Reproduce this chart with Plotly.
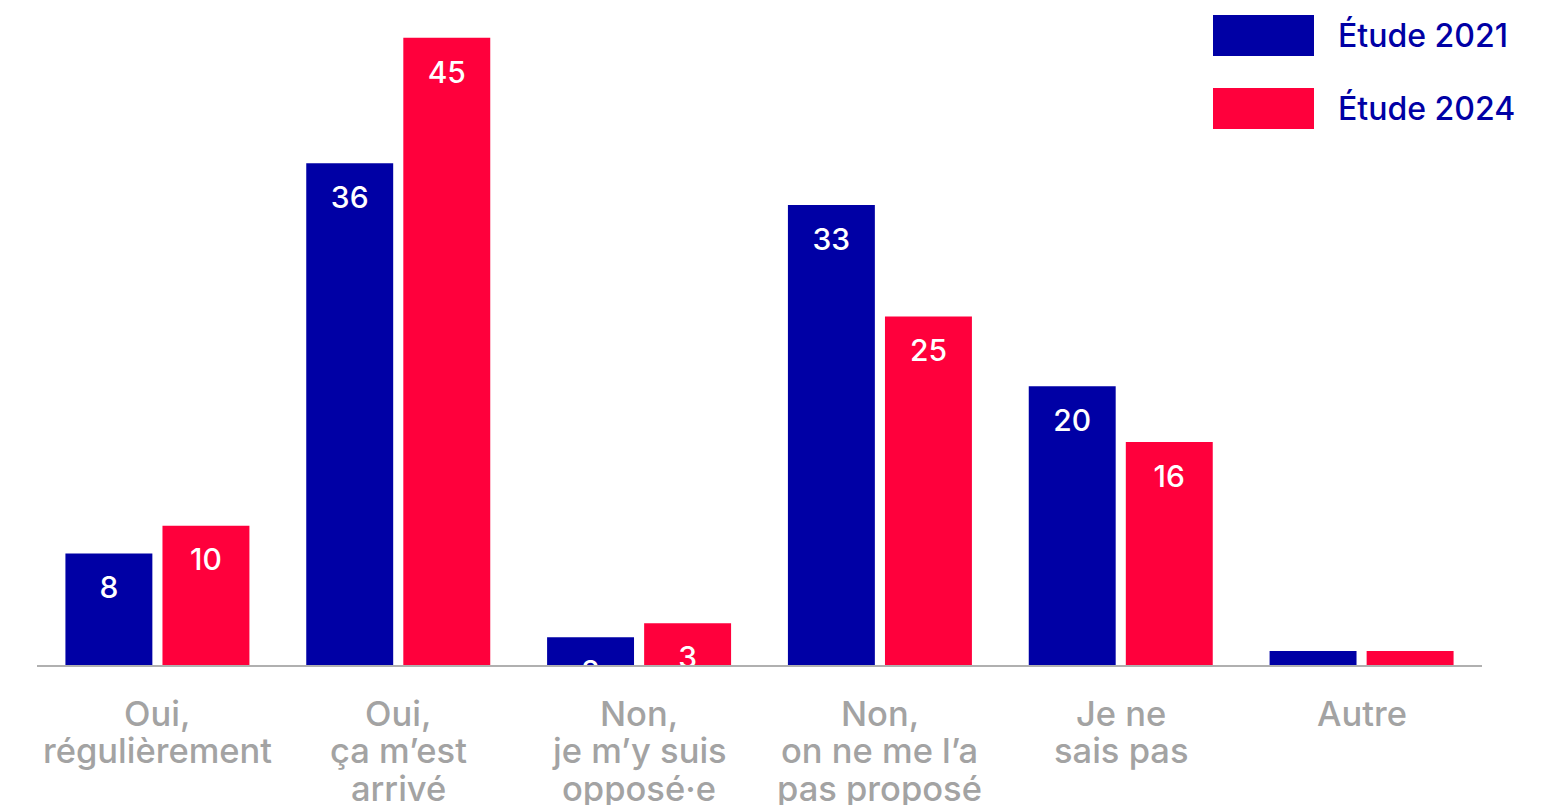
import plotly.graph_objects as go

categories = ["Oui,<br>régulièrement", "Oui,<br>ça m’est<br>arrivé", "Non,<br>je m’y suis<br>opposé·e",
              "Non,<br>on ne me l’a<br>pas proposé", "Je ne<br>sais pas", "Autre"]
series_names = ["Étude 2021", "Étude 2024"]
values_2021 = [8, 36, 2, 33, 20, 1]
values_2024 = [10, 45, 3, 25, 16, 1]
colors = ["#0000A5", "#FF003C"]

FONT = "Inter"
idx = list(range(len(categories)))
bar_w = 0.361
offsets = [-0.382, 0.021]

# page offset compensation (body margin ~8px)
PAD = 8
L, R, T, B = 37 - PAD, 64 + PAD, 10 - PAD, 140 + PAD
W, H = 1546, 805
plot_w = W - L - R
plot_h = H - T - B

fig = go.Figure()
for name, vals, col, off in zip(series_names, [values_2021, values_2024], colors, offsets):
    fig.add_trace(go.Bar(
        x=idx, y=vals, name=name, marker=dict(color=col, line=dict(width=0)),
        width=bar_w, offset=off, showlegend=False, hoverinfo="y+name",
    ))
    fig.add_trace(go.Scatter(
        x=[i + off + bar_w / 2 for i in idx], y=vals, mode="markers+text",
        text=[str(v) for v in vals], textposition="bottom center",
        textfont=dict(family=FONT, size=30, color="white", weight=500),
        marker=dict(size=34, color="rgba(0,0,0,0)"),
        cliponaxis=True, showlegend=False, hoverinfo="skip",
    ))

# category labels (multi-line, tight line spacing)
for i, lab in zip(idx, categories):
    for j, line in enumerate(lab.split("<br>")):
        fig.add_annotation(x=i, xref="x", y=0, yref="y", text=line, showarrow=False,
                           xanchor="center", yanchor="middle", yshift=-(48 + 37.5 * j),
                           font=dict(family=FONT, size=34.5, color="#A3A3A3", weight=500))

# custom legend (pixel positions of plot top = 10)
leg_centers_px = [35.5, 108.5]
for name, col, cy in zip(series_names, colors, leg_centers_px):
    yy = 1 - (cy - 10) / plot_h
    fig.add_shape(type="rect", xref="paper", yref="paper",
                  x0=(1213 - 37) / plot_w, x1=(1314 - 37) / plot_w,
                  y0=yy - 20.5 / plot_h, y1=yy + 20.5 / plot_h,
                  fillcolor=col, line=dict(width=0))
    fig.add_annotation(xref="paper", yref="paper", x=(1336 - 37) / plot_w, y=yy,
                       text=name, showarrow=False, xanchor="left", yanchor="middle",
                       font=dict(family=FONT, size=32, color=colors[0], weight=500))

fig.update_layout(
    width=W, height=H,
    margin=dict(l=L, r=R, t=T, b=B),
    paper_bgcolor="white", plot_bgcolor="white",
    font=dict(family=FONT),
    showlegend=False,
    xaxis=dict(
        range=[-0.5, 5.5], tickmode="array", tickvals=idx, ticktext=[""] * len(idx),
        showgrid=False, zeroline=False, showline=True, linecolor="#B0B0B0", linewidth=2,
        ticks="", fixedrange=True,
    ),
    yaxis=dict(range=[0, 47], visible=False, showgrid=False, zeroline=False, fixedrange=True),
)

fig.write_html("out.html")
